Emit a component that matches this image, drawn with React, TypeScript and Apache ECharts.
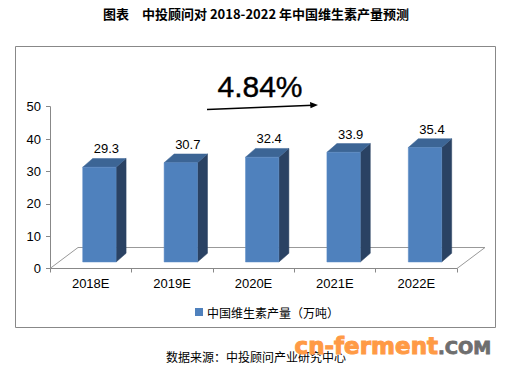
import React, { useEffect, useRef } from "react";
import * as echarts from "echarts";

const categories = ["2018E", "2019E", "2020E", "2021E", "2022E"];
const production = [29.3, 30.7, 32.4, 33.9, 35.4];
const yTicks = { min: 0, max: 50, interval: 10 };
const seriesName = "中国维生素产量（万吨）";
const titleText = "图表　中投顾问对 2018-2022 年中国维生素产量预测";
const growthText = "4.84%";
const sourceText = "数据来源：中投顾问产业研究中心";

const FRONT = "#4F81BD";
const TOP = "#3C6595";
const SIDE = "#2A4263";

export default function App() {
  const ref = useRef<HTMLDivElement>(null);
  useEffect(() => {
    const chart = echarts.init(ref.current!, null, { renderer: "svg" });
    const option: any = {
      animation: false,
      backgroundColor: "#fff",
      grid: { left: 50, right: 50, top: 106.7, height: 161.8 },
      legend: {
        left: 190,
        top: 301,
        itemWidth: 8,
        itemHeight: 8,
        icon: "rect",
        data: [{ name: seriesName, itemStyle: { color: FRONT } }],
        textStyle: { fontSize: 12, color: "#000", fontFamily: "Noto Sans CJK SC", padding: [0, 0, 0, -1] },
      },
      xAxis: {
        type: "category",
        data: categories,
        boundaryGap: true,
        axisLine: { show: true, lineStyle: { color: "#888", width: 1 } },
        axisTick: { show: true, length: 4, alignWithLabel: false, lineStyle: { color: "#888" } },
        axisLabel: { color: "#000", fontSize: 13, fontFamily: "Liberation Sans", margin: 8 },
        splitLine: { show: false },
      },
      yAxis: {
        type: "value",
        min: yTicks.min,
        max: yTicks.max,
        interval: yTicks.interval,
        axisLine: { show: true, lineStyle: { color: "#888", width: 1 } },
        axisTick: { show: true, length: 4, inside: false, lineStyle: { color: "#888" } },
        axisLabel: { color: "#000", fontSize: 13, fontFamily: "Liberation Sans", margin: 9 },
        splitLine: { show: false },
      },
      series: [
        {
          type: "custom",
          name: seriesName,
          itemStyle: { color: FRONT },
          data: production.map((v, i) => [i, v]),
          encode: { x: 0, y: 1 },
          renderItem: (params: any, api: any) => {
            const i = api.value(0);
            const v = api.value(1);
            const p = api.coord([i, v]);
            const p0 = api.coord([i, 0]);
            const bw = api.size([1, 0])[0] * 0.41;
            const ox = 8.7, oy = -6.5, dx = 10, dy = -8.7;
            const x0 = p[0] - bw / 2 + ox;
            const top = p[1] + oy;
            const bottom = p0[1] + oy;
            const children: any[] = [];
            if (params.dataIndex === 0) {
              const cs = params.coordSys;
              const fy = cs.y + cs.height;
              children.push({
                type: "polyline",
                shape: {
                  points: [
                    [cs.x, fy],
                    [cs.x + 28, fy - 21],
                    [cs.x + cs.width + 28, fy - 21],
                    [cs.x + cs.width, fy],
                  ],
                },
                style: { stroke: "#999", lineWidth: 1, fill: "none" },
              });
            }
            children.push({
              type: "polygon",
              shape: { points: [[x0 + bw, top], [x0 + bw + dx, top + dy], [x0 + bw + dx, bottom + dy], [x0 + bw, bottom]] },
              style: { fill: SIDE, stroke: SIDE, lineWidth: 0.5 },
            });
            children.push({
              type: "polygon",
              shape: { points: [[x0, top], [x0 + bw, top], [x0 + bw + dx, top + dy], [x0 + dx, top + dy]] },
              style: { fill: TOP, stroke: TOP, lineWidth: 0.5 },
            });
            children.push({
              type: "rect",
              shape: { x: x0, y: top, width: bw, height: bottom - top },
              style: { fill: FRONT, stroke: "#5A8AC4", lineWidth: 0.5 },
            });
            children.push({
              type: "text",
              x: x0 + bw / 2 + 7,
              y: top + dy - 3,
              style: {
                text: String(v),
                fill: "#000",
                fontSize: 13,
                fontFamily: "Liberation Sans",
                align: "center",
                verticalAlign: "bottom",
              },
            });
            return { type: "group", children };
          },
        },
      ],
      graphic: [
        {
          type: "rect",
          shape: { x: 15.5, y: 46.5, width: 480, height: 281 },
          style: { fill: "none", stroke: "#888", lineWidth: 1 },
          z: -1,
        },
        {
          type: "text",
          x: 256,
          y: 13,
          style: {
            text: titleText,
            fill: "#000",
            fontSize: 13,
            fontWeight: "bold",
            fontFamily: "Noto Sans CJK SC",
            align: "center",
            verticalAlign: "middle",
          },
        },
        {
          type: "text",
          x: 260,
          y: 86,
          style: {
            text: growthText,
            fill: "#000",
            fontSize: 30,
            fontFamily: "Liberation Sans",
            align: "center",
            verticalAlign: "middle",
            stroke: "#000",
            lineWidth: 0.4,
          },
        },
        {
          type: "line",
          shape: { x1: 207, y1: 109.5, x2: 313, y2: 105.3 },
          style: { stroke: "#000", lineWidth: 1.5 },
        },
        {
          type: "polygon",
          shape: { points: [[318, 105], [310, 102], [310.5, 108.3]] },
          style: { fill: "#000" },
        },
        {
          type: "text",
          x: 166,
          y: 356,
          style: {
            text: sourceText,
            fill: "#000",
            fontSize: 12,
            fontFamily: "Noto Sans CJK SC",
            align: "left",
            verticalAlign: "middle",
          },
        },
        {
          type: "text",
          x: 438,
          y: 357,
          z: 10,
          style: {
            text: "cn-ferment",
            fill: "#FF9A45",
            stroke: "#FF9A45",
            lineWidth: 1,
            fontSize: 23,
            fontWeight: "bold",
            fontFamily: "DejaVu Sans",
            align: "right",
            verticalAlign: "bottom",
          },
        },
        {
          type: "text",
          x: 438,
          y: 356,
          z: 10,
          style: {
            text: ".COM",
            fill: "#6E6E6E",
            stroke: "#6E6E6E",
            lineWidth: 0.8,
            fontSize: 18,
            fontWeight: "bold",
            fontFamily: "DejaVu Sans",
            align: "left",
            verticalAlign: "bottom",
          },
        },
      ],
    };
    chart.setOption(option);
    return () => chart.dispose();
  }, []);
  return (
    <div
      ref={ref}
      style={{ position: "fixed", left: 0, top: 0, width: 507, height: 367 }}
    />
  );
}
